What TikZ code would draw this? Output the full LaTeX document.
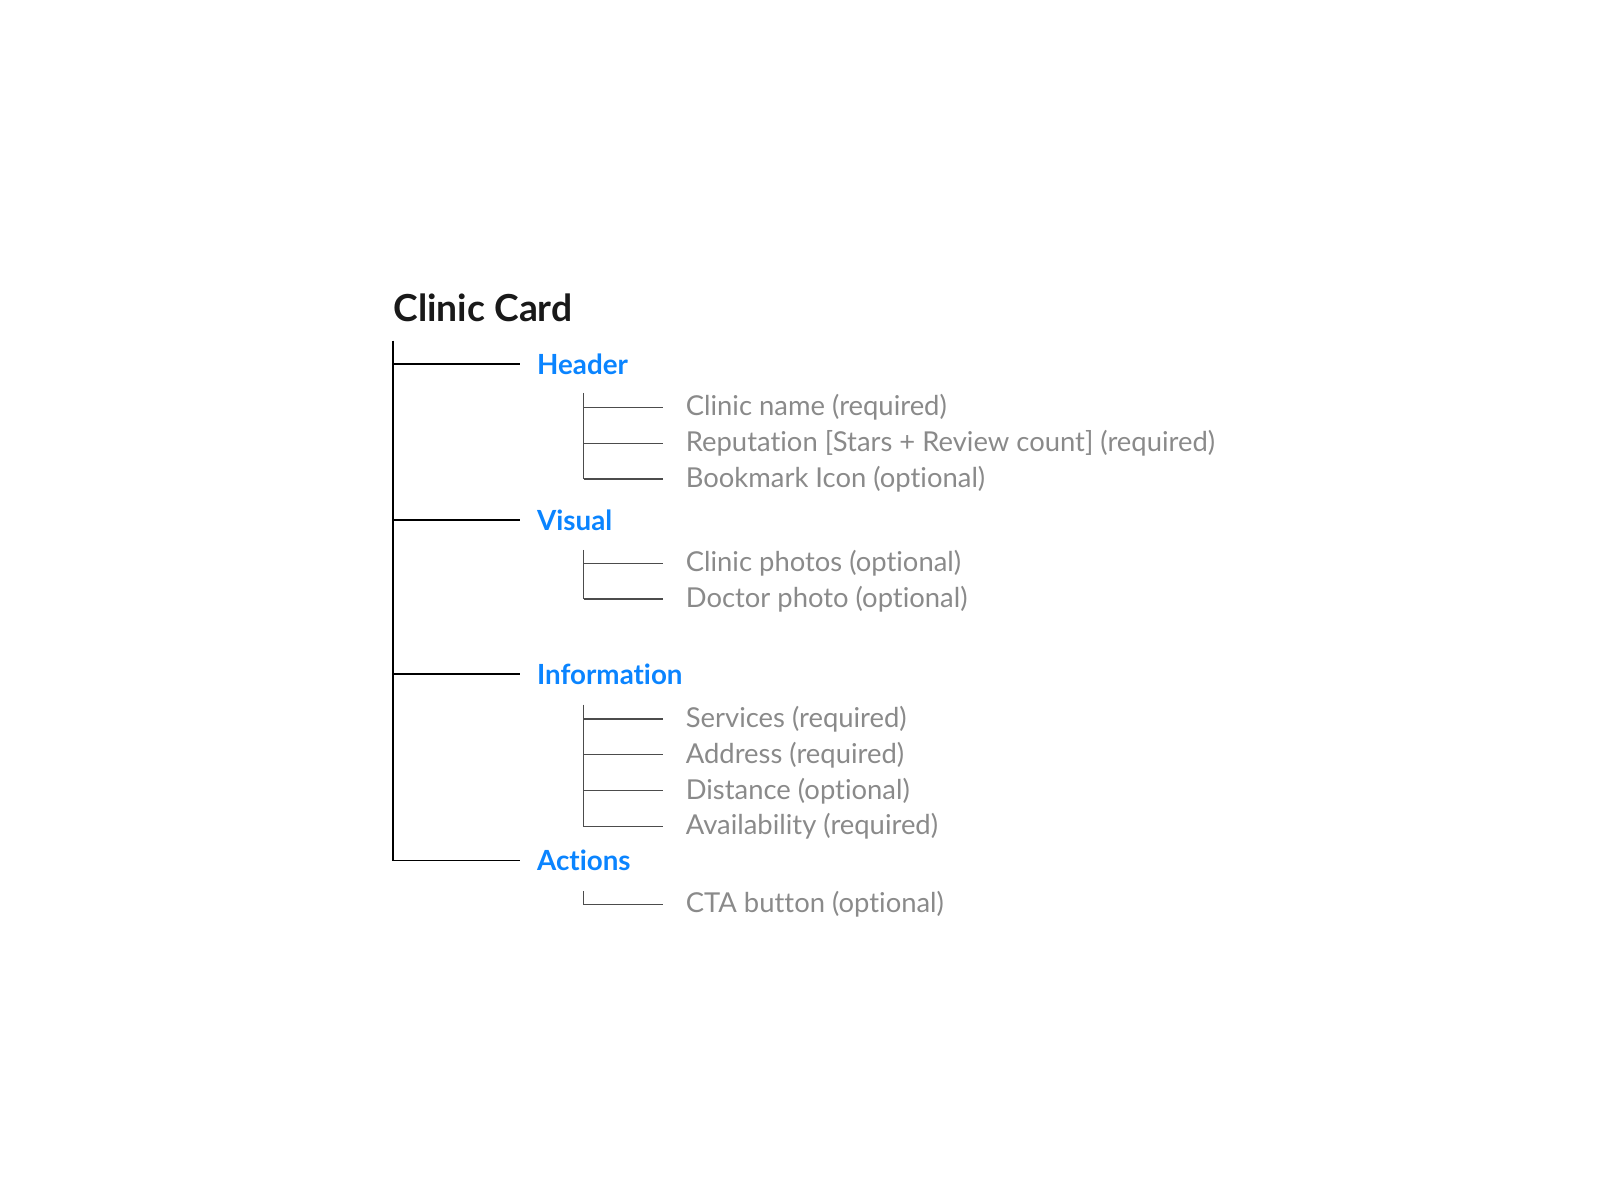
\documentclass[tikz,border=0pt]{standalone}
\usepackage{fontspec}
\setmainfont[Ligatures={NoCommon,NoRare}]{Lato}
\definecolor{secblue}{HTML}{0A84FF}
\definecolor{itemgray}{HTML}{8A8A8A}
\tikzstyle{sec}=[anchor=west,inner sep=0pt,text=secblue,font=\fontsize{7.9}{9}\selectfont\bfseries]
\tikzstyle{item}=[anchor=west,inner sep=0pt,text=itemgray,font=\fontsize{7.8}{9}\selectfont]
\tikzstyle{trunk}=[line width=0.45pt,black]
\tikzstyle{twig}=[line width=0.3pt,black!70]
\newcommand\Section[3]{
  % #1 name, #2 y, #3 label
  \coordinate (#1root) at (3.83,#2);
  \coordinate (#1end) at (5.07,#2);
  \node[sec] (#1) at (5.23,#2) {#3};
  \draw[trunk] (#1root) -- (#1end);
}
\newcommand\Item[3]{
  % #1 name, #2 y, #3 label
  \coordinate (#1a) at (5.69,#2);
  \coordinate (#1b) at (6.46,#2);
  \node[item] (#1) at (6.68,#2) {#3};
  \draw[twig] (#1a) -- (#1b);
}
\begin{document}
\begin{tikzpicture}[x=1.026cm,y=-1.026cm]
  \useasboundingbox (0,0) rectangle (15.6,11.7);
  \node[anchor=west,inner sep=0pt,font=\fontsize{10.6}{12}\selectfont\bfseries,text=black!90] (title) at (3.83,3.0) {Clinic Card};
  \coordinate (top) at (3.83,3.32);

  \Section{header}{3.55}{Header}
  \Item{cname}{3.97}{Clinic name (required)}
  \Item{rep}{4.32}{Reputation [Stars + Review count] (required)}
  \Item{book}{4.67}{Bookmark Icon (optional)}
  \draw[twig] (5.69,3.83) -- (booka);

  \Section{visual}{5.07}{Visual}
  \Item{cphoto}{5.49}{Clinic photos (optional)}
  \Item{dphoto}{5.84}{Doctor photo (optional)}
  \draw[twig] (5.69,5.36) -- (dphotoa);

  \Section{info}{6.57}{Information}
  \Item{serv}{7.01}{Services (required)}
  \Item{addr}{7.36}{Address (required)}
  \Item{dist}{7.71}{Distance (optional)}
  \Item{avail}{8.06}{Availability (required)}
  \draw[twig] (5.69,6.87) -- (availa);

  \Section{actions}{8.39}{Actions}
  \Item{cta}{8.82}{CTA button (optional)}
  \draw[twig] (5.69,8.69) -- (ctaa);

  \draw[trunk] (top) -- (actionsroot);
\end{tikzpicture}
\end{document}
